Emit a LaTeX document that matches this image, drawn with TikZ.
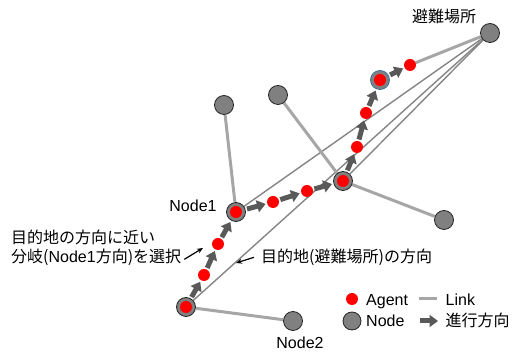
\documentclass[tikz,border=0pt]{standalone}
\usepackage{fontspec}
\setmainfont{Liberation Sans}
\newfontfamily\cjk{Noto Sans CJK JP}
\usetikzlibrary{arrows.meta}
\definecolor{nodegray}{HTML}{808080}
\definecolor{linkgray}{HTML}{A6A6A6}
\definecolor{dirgray}{HTML}{858585}
\definecolor{movegray}{HTML}{595959}
\definecolor{rimblue}{HTML}{41719C}
\pgfdeclarelayer{bg}
\pgfsetlayers{bg,main}
\tikzset{
  nd/.style={circle,draw=black!85,fill=nodegray,line width=0.8pt,minimum size=19pt,inner sep=0pt},
  ndag/.style={nd,path picture={\fill[red] (path picture bounding box.center) circle (6pt);}},
  agent/.style={circle,fill=red,minimum size=12pt,inner sep=0pt},
  link/.style={linkgray,line width=3pt},
  dirline/.style={dirgray,line width=1.4pt},
  mv/.style={movegray,line width=5pt,-{Triangle[length=8.5pt,width=12pt]},shorten <=1.5pt,shorten >=1.5pt},
  note/.style={black,line width=1.2pt,-{Stealth[length=6pt,width=5pt]}},
  lbl/.style={font=\fontsize{16}{19}\selectfont,inner sep=0pt,anchor=base}
}

\begin{document}
\begin{tikzpicture}[x=1pt,y=-1pt]
		\useasboundingbox (0,0) rectangle (512,352);
		%%%%% NODES %%%%%
		\node[nd] (dest) at (490,33) {};
		\node[nd] (na) at (224,105) {};
		\node[nd] (nb) at (278,95) {};
		\node[nd] (nc) at (444,220) {};
		\node[nd] (node2) at (293,321) {};
		\node[ndag] (start) at (186,307) {};
		\node[ndag] (node1) at (236,212) {};
		\node[ndag] (nx) at (343,181) {};
		\node[ndag,draw=rimblue] (ny) at (380,80) {};
		
		%%%%% AGENTS %%%%%
		\node[agent] (a1) at (204,275) {};
		\node[agent] (a2) at (218,244) {};
		\node[agent] (a3) at (273,202) {};
		\node[agent] (a4) at (307,191) {};
		\node[agent] (a5) at (357,147) {};
		\node[agent] (a6) at (366,113) {};
		\node[agent] (a7) at (410,65) {};
		
		%%%%% LINKS %%%%%
		\begin{pgfonlayer}{bg}
		\draw[dirline] (start) -- (dest);
		\draw[dirline] (node1) -- (dest);
		\draw[dirline] (nx) -- (dest);
		\draw[link] (na) -- (node1);
		\draw[link] (nb) -- (nx);
		\draw[link] (nx) -- (nc);
		\draw[link] (start) -- (node2);
		\draw[link] (a7) -- (dest);
		\end{pgfonlayer}
		
		%%%%% MOVES %%%%%
		\draw[mv] (start) -- (a1);
		\draw[mv] (a1) -- (a2);
		\draw[mv] (a2) -- (node1);
		\draw[mv] (node1) -- (a3);
		\draw[mv] (a3) -- (a4);
		\draw[mv] (a4) -- (nx);
		\draw[mv] (nx) -- (a5);
		\draw[mv] (a5) -- (a6);
		\draw[mv] (a6) -- (ny);
		\draw[mv] (ny) -- (a7);
		
		%%%%% LABELS %%%%%
		\node[lbl] (destlbl) at (444,23) {\cjk 避難場所};
		\node[lbl] (node1lbl) at (193,212) {Node1};
		\node[lbl] (node2lbl) at (300,349) {Node2};
		\node[lbl,anchor=base west] (choice1) at (11,243.5) {\cjk 目的地の方向に近い};
		\node[lbl,anchor=base west] (choice2) at (11,262.5) {{\cjk 分岐(}Node1{\cjk 方向)を選択}};
		\node[lbl,anchor=base west] (dirlbl) at (261,262.5) {\cjk 目的地(避難場所)の方向};
		\coordinate (choicept) at (203,248);
		\coordinate (dirpt) at (236,263);
		\draw[note] ([xshift=3pt,yshift=-2pt]choice2.east) -- (choicept);
		\draw[note] ([xshift=-7pt]dirlbl.west) -- (dirpt);
		
		%%%%% LEGEND %%%%%
		\node[agent] (legag) at (352,299) {};
		\node[lbl,anchor=base west] (legagtxt) at (366,306) {Agent};
		\coordinate (lk1) at (419,299);
		\coordinate (lk2) at (437,299);
		\draw[link] (lk1) -- (lk2);
		\node[lbl,anchor=base west] (leglktxt) at (445.5,306) {Link};
		\node[nd,minimum size=18pt] (legnd) at (352,321) {};
		\node[lbl,anchor=base west] (legndtxt) at (366,326.5) {Node};
		\coordinate (mv1) at (420,321);
		\coordinate (mv2) at (438,321);
		\draw[mv,shorten <=0pt,shorten >=0pt] (mv1) -- (mv2);
		\node[lbl,anchor=base west] (legmvtxt) at (445.5,327) {\cjk 進行方向};
	\end{tikzpicture}
\end{document}
